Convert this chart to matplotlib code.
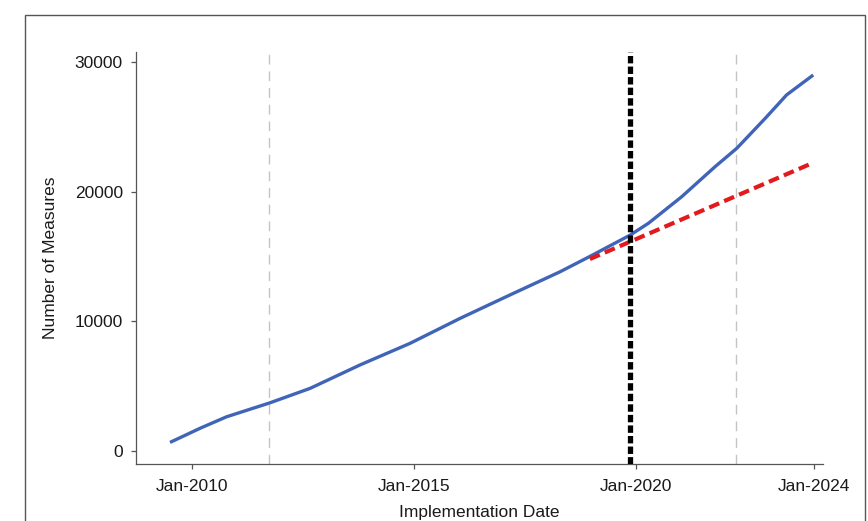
import matplotlib.pyplot as plt
from matplotlib.patches import Rectangle

plt.rcParams['font.family'] = ['Liberation Sans', 'DejaVu Sans']

# cumulative number of measures by implementation date (decimal years)
years = [2009.54, 2010.2, 2010.78, 2011.76, 2012.66, 2013.78, 2014.91,
         2016.04, 2017.16, 2018.29, 2018.96, 2019.87, 2020.28, 2021.03,
         2021.78, 2022.27, 2022.91, 2023.39, 2023.96]
measures = [720, 1780, 2640, 3720, 4830, 6630, 8300,
            10230, 12030, 13820, 15000, 16650, 17560, 19610,
            21920, 23340, 25650, 27450, 28910]

# linear projection of the pre-period trend
proj_years = [2018.96, 2023.96]
proj_values = [14800, 22180]

event_year = 2019.86
ref_years = [2011.74, 2022.25]

tick_years = [2010, 2015, 2020, 2024]
tick_labels = ['Jan-2010', 'Jan-2015', 'Jan-2020', 'Jan-2024']
ytick_values = [0, 10000, 20000, 30000]

fig = plt.figure(figsize=(8.68, 5.21), dpi=100)
fig.patch.set_facecolor('white')
fig.add_artist(Rectangle((25 / 868, -0.05), 840 / 868, 1.05 - 15 / 521,
                         transform=fig.transFigure, fill=False,
                         edgecolor='#555555', linewidth=1.0))

ax = fig.add_axes([136 / 868, 1 - 464 / 521, 687 / 868, 412 / 521])
ax.set_xlim(2008.74, 2024.21)
ax.set_ylim(-1000, 30760)

for x in ref_years:
    ax.axvline(x, color='#c4c4c4', linewidth=1.0, dashes=(7, 5), zorder=1)

ax.plot(years, measures, color='#4065b8', linewidth=2.4, zorder=3,
        solid_joinstyle='round')
ax.plot(proj_years, proj_values, color='#e31a1c', linewidth=3.0,
        dashes=(2.6, 1.3), zorder=4)
ax.axvline(event_year, color='black', linewidth=3.8, dashes=(1.4, 0.6),
           zorder=5)

ax.set_xticks(tick_years)
ax.set_xticklabels(tick_labels)
ax.set_yticks(ytick_values)
ax.set_yticklabels([str(v) for v in ytick_values])
ax.tick_params(axis='both', labelsize=12.5, length=3.5, width=0.9,
               color='#555555', labelcolor='#1a1a1a')
ax.tick_params(axis='x', pad=7)
ax.tick_params(axis='y', pad=6)

for side in ['top', 'right']:
    ax.spines[side].set_visible(False)
for side in ['left', 'bottom']:
    ax.spines[side].set_color('#555555')
    ax.spines[side].set_linewidth(0.9)

ax.set_xlabel('Implementation Date', fontsize=12.5, color='#1a1a1a',
              labelpad=8)
ax.set_ylabel('Number of Measures', fontsize=12.5, color='#1a1a1a',
              labelpad=12)

fig.savefig('out.png', dpi=100)
